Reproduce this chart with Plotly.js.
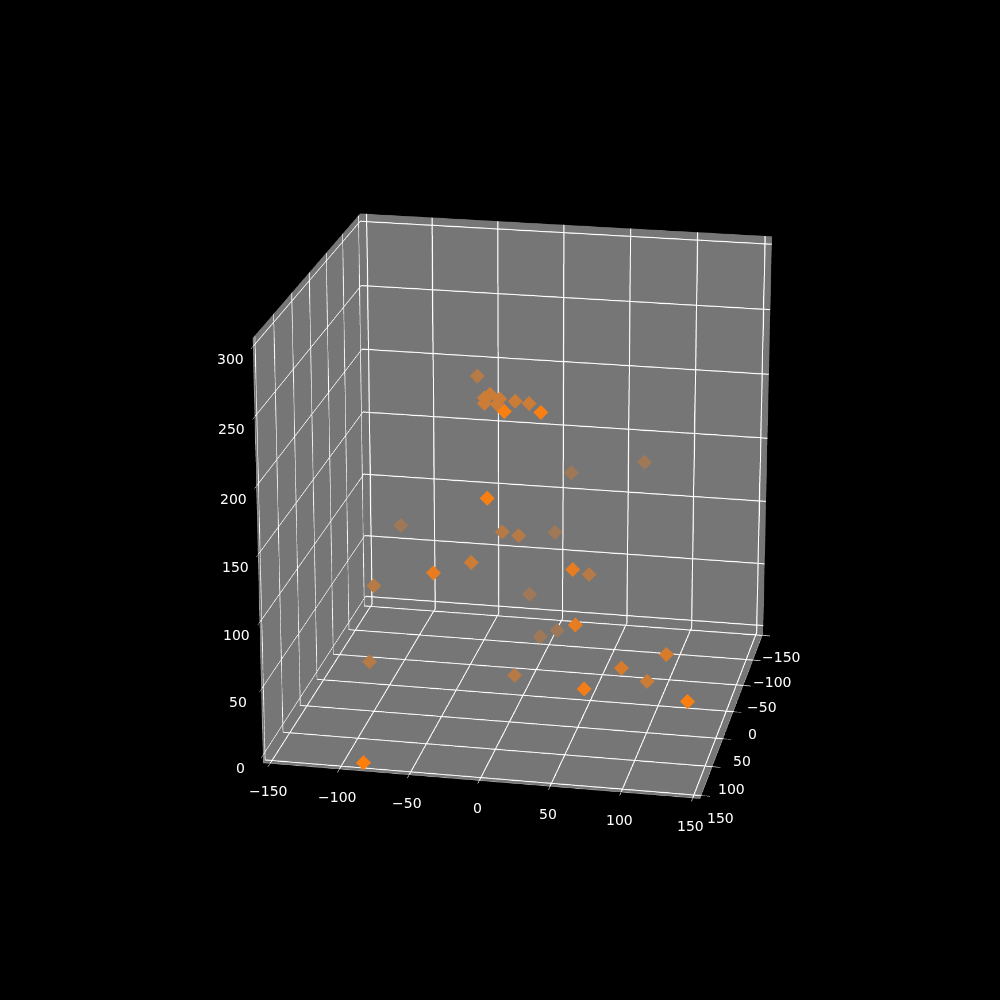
<!DOCTYPE html>
<html><head><meta charset="utf-8">
<script src="https://cdn.plot.ly/plotly-3.0.1.min.js"></script>
<style>html,body{margin:0;padding:0;background:#000;width:1000px;height:1000px;overflow:hidden}#c{position:absolute;left:-1132px;top:-1161px}</style>
</head><body><div id="c"></div>
<script>
const ys=[-35,-20,-16,-9,-20,-11,2,12,15,40,25,79,3,-103,-17,-5,13,-113,-44,-30,55,47,-6,15,57,2,-117,-8,68,84,116,98,143,-84];
const xs=[-8,39,39,39,39,39,39,39,140,140,-54,-54,140,-54,-8,-8,-54,-8,100,39,100,-8,-54,-54,100,-54,-8,-8,125,66,66,39,140,150];
const zs=[234,234,237,234,230,230,233,232,260,261,149,161,197,99,117,115,102,68,124,110,134,89,52,25,93,19,8,6,56,49,62,29,59,-2];
const tickVals=[-150,-100,-50,0,50,100,150];
const zTickVals=[0,50,100,150,200,250,300];
const xMin=Math.min(...xs),xMax=Math.max(...xs);
const mix=(a,b,t)=>Math.round(a*t+b*(1-t));
const colors=xs.map(x=>{const t=0.3+0.7*(x-xMin)/(xMax-xMin);return `rgb(${mix(255,118,t)},${mix(127,118,t)},${mix(14,118,t)})`;});
const lab=v=>String(v).replace('-','\u2212');
const font={family:'DejaVu Sans',size:14,color:'#ffffff'};
const note=(x,y,z,v,dx,dy)=>({x,y,z,text:lab(v),showarrow:false,xanchor:'center',yanchor:'middle',xshift:dx,yshift:dy,font});
const ax=(vals,range)=>({range:range,tickmode:'array',tickvals:vals,showticklabels:false,
 title:{text:''},showgrid:true,gridcolor:'#ffffff',gridwidth:2,showbackground:true,backgroundcolor:'#767676',
 showline:true,linecolor:'#a8a8a8',linewidth:1,zeroline:false,ticks:'outside',ticklen:6,tickcolor:'#ffffff',tickwidth:1,
 showspikes:false});
const notes=[...tickVals.map(v=>note(155,v,-6,v,-2,-28)),...tickVals.map(v=>note(v,155,-6,v,19,-22)),...zTickVals.map(v=>note(155,-155,v,v,-23,-13))];
const layout={width:3310,height:3310,paper_bgcolor:'#000',plot_bgcolor:'#000',showlegend:false,margin:{l:0,r:0,t:0,b:0},
 scene:{domain:{x:[0,1],y:[0,1]},bgcolor:'#000',aspectmode:'manual',aspectratio:{x:1,y:1,z:1.01},annotations:notes,
  xaxis:ax(tickVals,[-155,155]),yaxis:ax(tickVals,[-155,155]),zaxis:ax(zTickVals,[-6,306]),
  camera:{eye:{x:8.52,y:1.70,z:3.16},center:{x:0,y:0,z:0},up:{x:0,y:0,z:1},projection:{type:'perspective'}}}};
Plotly.newPlot('c',[{type:'scatter3d',mode:'markers',x:xs,y:ys,z:zs,marker:{symbol:'diamond',size:4.3,color:colors,line:{width:0}}}],layout,{displayModeBar:false});
</script></body></html>
